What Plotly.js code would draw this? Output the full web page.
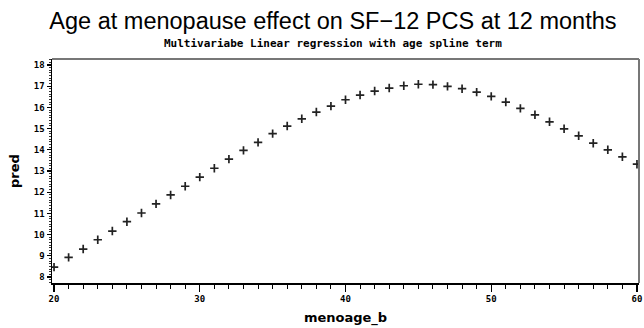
<!DOCTYPE html>
<html>
<head>
<meta charset="utf-8">
<script src="https://cdn.plot.ly/plotly-3.0.1.min.js"></script>
<style>html,body{margin:0;padding:0;background:#fff;}#chart{width:644px;height:328px;}</style>
</head>
<body>
<div id="chart"></div>
<script>
// Data
const menoage_b = [20,21,22,23,24,25,26,27,28,29,30,31,32,33,34,35,36,37,38,39,40,
                   41,42,43,44,45,46,47,48,49,50,51,52,53,54,55,56,57,58,59,60];
const pred = [8.47,8.93,9.32,9.76,10.17,10.61,11.02,11.45,11.87,12.28,12.71,13.13,13.56,13.97,14.35,14.76,15.12,15.46,15.78,16.06,16.36,
              16.58,16.77,16.91,17.02,17.09,17.07,16.99,16.88,16.72,16.52,16.25,15.95,15.65,15.32,14.99,14.66,14.31,14.00,13.67,13.32];
const xTickVals = [20,30,40,50,60];
const yTickVals = [8,9,10,11,12,13,14,15,16,17,18];

const titleText = "Age at menopause effect on SF\u221212 PCS at 12 months";
const subtitleText = "Multivariabe Linear regression with age spline term";

const tickFont = {family: "DejaVu Sans Mono", size: 9, color: "#000", weight: "bold"};

const trace = {
  x: menoage_b, y: pred, type: "scatter", mode: "markers",
  marker: {symbol: "cross-thin", size: 6, color: "#000", line: {color: "#222", width: 1.7}},
  hoverinfo: "skip"
};

const layout = {
  width: 644, height: 328,
  margin: {l: 52, r: 5, t: 59, b: 45},
  paper_bgcolor: "#fff", plot_bgcolor: "#fff",
  showlegend: false,
  title: {text: titleText, font: {family: "Liberation Sans", size: 23.5, color: "#000"},
          x: 0.517, xref: "container", y: 1 - 21/328, yref: "container", yanchor: "middle", xanchor: "center"},
  xaxis: {
    range: [19.86, 60.14], showgrid: false, zeroline: false,
    showline: true, linecolor: "#000", linewidth: 1.5,
    tickmode: "array", tickvals: xTickVals, ticktext: xTickVals.map(String),
    ticks: "outside", ticklen: 7, tickwidth: 1.2, tickcolor: "#000",
    minor: {dtick: 1, tick0: 20, ticks: "outside", ticklen: 4, tickwidth: 1, tickcolor: "#000", showgrid: false},
    tickfont: tickFont,
    title: {text: "menoage_b", font: {family: "DejaVu Sans", size: 13, color: "#000", weight: "bold"}, standoff: 9}
  },
  yaxis: {
    range: [7.72, 18.28], showgrid: false, zeroline: false,
    showline: true, linecolor: "#000", linewidth: 1.5,
    tickmode: "array", tickvals: yTickVals, ticktext: yTickVals.map(String),
    ticks: "outside", ticklen: 4, tickwidth: 1.2, tickcolor: "#000",
    minor: {dtick: 0.125, tick0: 8, ticks: "outside", ticklen: 2, tickwidth: 1, tickcolor: "#333", showgrid: false},
    tickfont: tickFont,
    title: {text: "pred", font: {family: "DejaVu Sans", size: 13, color: "#000", weight: "bold"}, standoff: 11}
  },
  shapes: [
    {type: "line", xref: "paper", yref: "paper", x0: 0, x1: 1, y0: 1, y1: 1, line: {color: "#777", width: 2}},
    {type: "line", xref: "paper", yref: "paper", x0: 1, x1: 1, y0: 0, y1: 1, line: {color: "#777", width: 2}}
  ],
  annotations: [
    {text: subtitleText, xref: "paper", yref: "paper", x: 0.478, y: 1 + 15/224, xanchor: "center", yanchor: "middle",
     showarrow: false, font: {family: "DejaVu Sans Mono", size: 11, color: "#000", weight: "bold"}}
  ]
};

Plotly.newPlot("chart", [trace], layout, {displayModeBar: false, staticPlot: true});
</script>
</body>
</html>
